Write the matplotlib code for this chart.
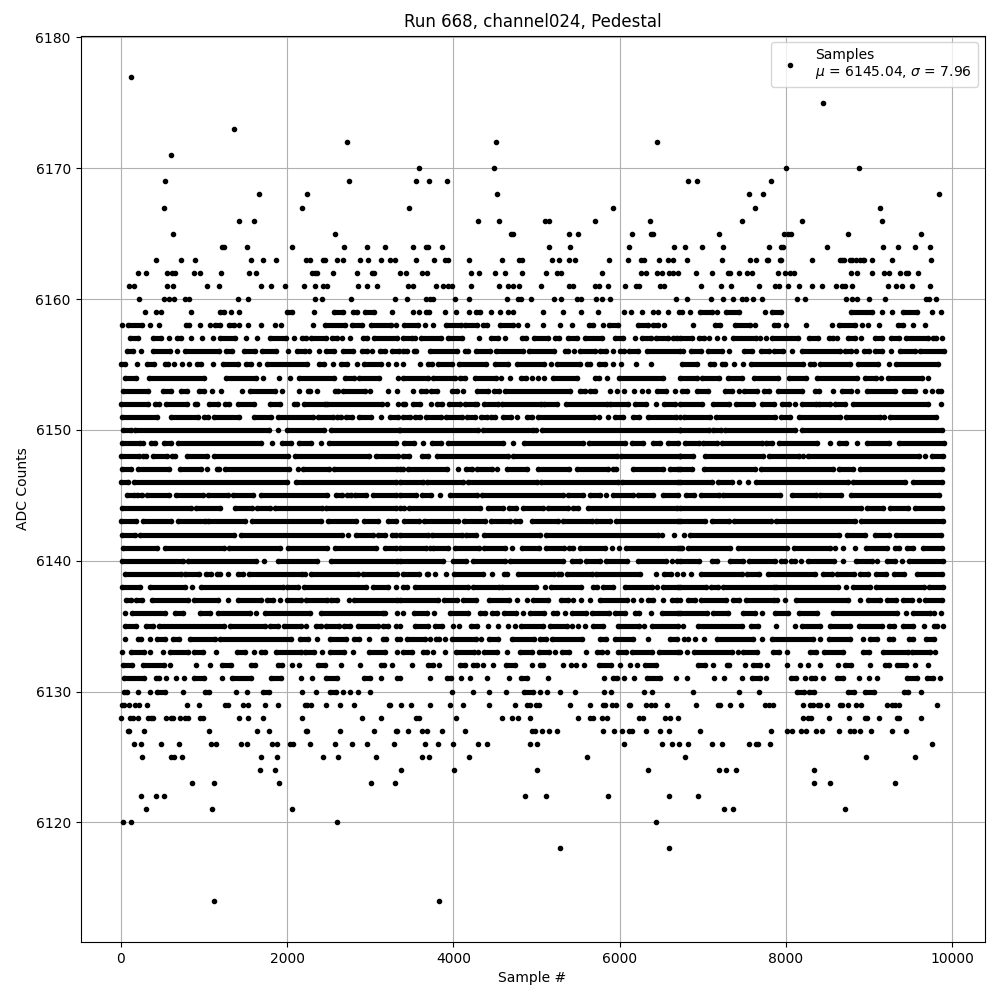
import matplotlib
matplotlib.use("Agg")
import matplotlib.pyplot as plt

# An int is one sample number. A tuple (a, b) is a run of overlapping dots that the
# picture does not let one separate: only its two ends are known, so it is drawn as
# dots at both ends joined by a bar, and no samples are invented in between.
adc_6177 = [120]
adc_6175 = [8448]
adc_6173 = [1356]
adc_6172 = [2724, 4512, 6444]
adc_6171 = [600]
adc_6170 = [3588, 4488, 8004, 8880]
adc_6169 = [528, 2748, 3552, 3708, 3924, 6828, 6936, 7824]
adc_6168 = [1656, 2244, 4524, 7560, 7728, 9840]
adc_6167 = [516, 2184, 3468, 5916, 7632, 9132]
adc_6166 = [1416, 1596, 4296, 4548, 5096, 5148, 5700, 6360, 7476, 8196, 9156]
adc_6165 = [624, 2580, 4692, 4716, 5388, 5496, 6144, 6372, 6396, 7200, 7980, 8028, 8064, 8748, 9624]
adc_6164 = [1212, 1236, 1512, 2052, 2688, 2964, 3180, 3516, 3664, 3688, 3864, 5148, 5400, 6108, 6648,
            6792, 6996, 7248, 7800, 7944, 7968, 8496, 9168, 9348, 9552, 9732]
adc_6163 = [420, 720, 888, 1560, 1704, 1860, 2232, 2280, 2432, 2456, 2604, 2676, 2880, 2976, 3132, 3240,
            3300, 3552, 3768, 3900, 3936, 4188, 4584, 4788, 4824, 5184, 5268, 5388, 5460, 5868, 6096,
            6252, 6288, 6468, 6576, 6636, 6816, 7236, 7572, 7644, 7776, 7788, 7932, 7944, 8316, 8652,
            8676, 8700, 8772, 8796, 8844, 8892, 8928, 8940, 9036, 9276, 9744]
adc_6162 = [204, 300, 552, 612, 648, 876, 948, 1200, 1536, 1620, 2304, 2336, 2364, 2556, 2844, 3024, 3044,
            3360, 3432, 3624, 3684, 4212, 4308, 4500, 4620, 4824, 5112, 5244, 5292, 5784, 6252, 6312,
            6444, 6504, 6588, 6636, 6696, 6924, 7116, 7308, 7332, 7440, 7536, 7596, 7908, 7992, 8052,
            8100, 8784, 8856, 9036, 9180, 9240, 9372, 9444, 9468, 9588]
adc_6161 = [96, 156, 552, 624, 1032, 1176, 1680, 1800, 1968, 2208, 2340, 2436, 2484, 2856, 2964, 3084,
            3448, 3508, 3796, 3880, 3940, 3988, 4216, 4552, 4660, 4720, 4792, 5056, 5392, 5440, 5704,
            5752, 5860, 6064, 6196, 6232, 6484, 6532, 6980, 7220, 7340, 7676, 7868, 7916, 8024, 8156,
            8312, 8432, 8600, 8672, 8708, 8792, 9224, 9320, 9392, 9512, 9728]
adc_6160 = [216, 516, 576, 636, 768, 816, 1404, 1524, 2340, 2424, 2772, 3300, 3436, 3664, 3724, 3760,
            4024, 4192, 4648, 4780, 4816, 4936, 5212, 5296, 5488, 5536, 5716, 5788, 5884, 6680, 6812,
            7100, 7244, 7364, 7472, 7520, 7604, 7712, 8132, 8228, 8720, 8792, 8852, 8996, 9188, 9680,
            9716, 9812]
adc_6159 = [288, 420, 480, 840, (1188, 1236), 1320, 1416, (1992, 2052), 2328, (2568, 2676), (2796, 2844),
            (2940, 3048), 3264, 3508, 3580, (3664, 3712), 3904, 4036, 4192, (4276, 4324), 4456, 4564,
            4660, 4720, 5080, 5320, 5536, 5740, 6052, 6136, 6268, 6404, 6464, 6580, 6712, 6752, 6848,
            (6968, 7112), 7172, (7280, 7436), 7748, (7832, 7940), (8780, 9032), 9152, 9272, (9404, 9572),
            9752, 9872]
adc_6158 = [12, (84, 252), 348, 456, (780, 816), 948, 1068, (1128, 1188), (1296, 1356), 1416, 1524, 1680,
            1848, 1920, 2312, (2460, 2700), (2784, 2904), (3012, 3244), 3312, (3400, 3568), 3652, 3760,
            (3916, 4096), (4144, 4288), (4360, 4408), (4564, 4720), 4780, 4888, 5080, 5284, 5428,
            (5632, 5680), 5800, (5872, 5980), (6220, 6340), (6400, 6460), 6532, 6884, (7148, 7208),
            (7388, 7568), 7628, (7856, 7904), 8004, 8240, 8552, (8636, 8828), 8912, 8984, 9116,
            (9344, 9404), 9524, 9668]
adc_6157 = [(108, 204), (384, 480), 576, (672, 720), 840, 972, 1104, (1188, 1368), 1500, 1632, (1788, 1980),
            2076, (2172, 2232), (2292, 2472), (2544, 2604), 2664, 2760, (2916, 2964), (3048, 3324),
            (3388, 3496), 3532, (3604, 3856), (3940, 4108), 4312, (4456, 4540), 4624, (4828, 4876),
            (4972, 5140), (5224, 5272), (5380, 5488), (5584, 5788), (5944, 6040), 6184, (6268, 6376),
            (6436, 6580), (6640, 6688), (6724, 6872), (6956, 7016), 7076, 7172, 7256, (7364, 7640), 7688,
            7760, (7832, 8144), (8276, 8384), (8516, 8564), 8612, (8744, 8828), 8900, (9068, 9152),
            (9260, 9356), (9440, 9704), (9764, 9812), 9884]
adc_6156 = [(72, 144), 240, (384, 588), 672, (768, 1176), (1260, 1332), (1476, 1608), (1692, 1860), 2004,
            (2112, 2220), 2268, 2388, (2472, 2568), (2676, 2796), (2904, 2964), 3024, (3120, 3180),
            (3264, 3344), (3388, 3436), (3520, 3544), (3724, 4048), (4144, 4180), (4276, 4444),
            (4516, 4840), (4912, 5212), (5344, 5380), 5452, (5524, 5704), (5764, 5836), 5920, (6004, 6052),
            (6112, 6220), (6328, 6720), 6764, (6860, 6980), (7064, 7232), 7316, (7496, 7592), (7700, 7796),
            (7856, 7964), 8072, (8192, 8648), (8708, 8780), 8840, (8936, 8996), (9068, 9152), 9260,
            (9368, 9548), (9608, 9908)]
adc_6155 = [(0, 48), 192, (312, 396), (528, 564), 636, 732, 816, (912, 960), 1112, (1224, 1404), (1500, 1560),
            1656, (1752, 2244), (2388, 2448), 2556, (2652, 2724), 2844, (2928, 3132), 3216, 3312, 3388, 3592,
            (3700, 3748), (3820, 3988), (4072, 4396), (4504, 4660), (4768, 5092), 5176, (5248, 5524),
            (5608, 5644), (5752, 5824), 5920, 6016, 6196, 6376, (6752, 6932), (7088, 7136), (7232, 7268),
            7376, 7484, (7580, 8204), (8288, 8336), (8408, 8768), (8864, 9104), 9236, (9320, 9836)]
adc_6154 = [(48, 180), (336, 1004), (1260, 1620), 1704, 1896, 2028, (2136, 2568), (2700, 2808), (2868, 3108),
            3336, (3388, 3688), (3760, 4024), (4084, 4144), (4264, 4516), 4576, 4684, (4816, 4876), 4948,
            5020, 5092, (5200, 5488), (5704, 5752), 5848, (5992, 6520), (6724, 6932), (6992, 7196),
            (7304, 7472), (7616, 7904), (8036, 8240), (8372, 8852), (8948, 9080), 9140, (9224, 9632), 9704]
adc_6153 = [(24, 324), (504, 600), (720, 792), (936, 996), 1092, 1200, 1452, (1548, 1848), 1932, 2136,
            (2256, 2280), 2364, (2580, 2616), (2676, 2940), 3000, 3216, 3324, 3516, (3604, 3664), (3736, 3808),
            (3988, 4048), 4120, (4288, 4420), (4492, 4552), (4624, 5404), (5524, 5584), (5644, 5704), 5884,
            5968, 6052, 6172, 6268, 6340, (6448, 6556), 6664, (6752, 6812), (6932, 7064), (7272, 7352), 7436,
            (7496, 7652), (7736, 7796), (7904, 8192), (8348, 8396), 8564, (8672, 8780), 8852, (8972, 9308),
            (9416, 9548), 9668, 9752, (9836, 9872)]
adc_6152 = [(0, 324), (408, 456), (540, 792), (888, 912), (1056, 1164), (1248, 1296), (1404, 1596), (1788, 1908),
            (2076, 2112), (2208, 2460), (2484, 3144), 3204, 3336, (3388, 3412), (3508, 3592), 3736, (3808, 3868),
            (3952, 4084), (4144, 4264), 4288, (4372, 4540), (4588, 5056), (5092, 5248), (5356, 5848), (5884, 6100),
            (6184, 6316), 6436, (6532, 6660), (6724, 6992), (7124, 7316), (7400, 7604), (7712, 7856), (7952, 8036),
            8108, (8192, 8360), (8396, 8528), (8588, 8708), (8804, 9704), 9872]
adc_6151 = [(12, 432), (600, 924), (996, 1044), (1116, 1416), (1596, 1800), (1884, 2316), (2376, 2556), (2604, 2652),
            (2712, 2784), (2868, 3012), 3132, (3240, 3336), (3388, 3472), (3532, 3592), (3664, 3856), (3916, 4108),
            (4168, 4264), (4336, 4408), (4456, 4504), (4600, 4696), 4768, (4888, 4948), (5020, 5692), 5752, 5860,
            (5944, 6040), (6160, 6232), (6340, 6680), 6724, (6776, 7088), (7160, 7868), (7940, 8048), (8156, 8648),
            (8720, 9128), 9176, (9248, 9812)]
adc_6150 = [(24, 120), (168, 1776), 1884, (1992, 2448), (2532, 3344), (3360, 4300), (4360, 4960), 4988, (5068, 6720),
            (6724, 7076), (7124, 7220), (7268, 8108), (8192, 9884)]
adc_6149 = [(12, 228), 264, (360, 408), (516, 600), (684, 1684), 1812, (1932, 2040), (2136, 2292), 2412, (2508, 3304),
            (3400, 3520), 3628, (3748, 3856), (3940, 4600), 4720, (4852, 5560), (5632, 6064), (6148, 6280),
            (6400, 6484), (6580, 6700), (6788, 6956), (7004, 7172), (7232, 7712), (7760, 7832), (7916, 8372), 8528,
            (8636, 8720), 8852, (8972, 9236), (9356, 9908)]
adc_6148 = [(0, 216), (264, 300), (384, 552), (612, 648), (792, 1032), (1116, 2004), (2088, 2984), (3072, 3336),
            (3388, 3460), (3616, 3700), (3808, 4660), (4720, 5968), (6016, 6720), (6724, 6884), (7028, 7724),
            (7796, 8156), 8204, (8264, 9596), 9668, (9752, 9896)]
adc_6147 = [(12, 120), (204, 576), (708, 960), 1032, (1152, 1176), (1248, 2016), 2124, (2196, 2508), (2568, 3324),
            (3360, 3388), (3448, 3928), 4060, (4156, 4228), (4288, 4468), 4528, (4648, 4888), (5012, 5392),
            (5488, 5860), (5920, 5960), (6160, 6520), (6604, 6700), (6724, 6872), (7016, 7628), (7700, 8564),
            (8636, 8804), (8888, 9884)]
adc_6146 = [(0, 84), (156, 1992), (2100, 3312), (3360, 3632), (3680, 4120), (4180, 5000), (5048, 5980), (6032, 6700),
            (6724, 7112), (7184, 7352), 7436, 7544, (7640, 8744), (8804, 9428), (9524, 9884)]
adc_6145 = [(72, 156), (192, 252), (312, 576), (660, 984), (1044, 1284), (1344, 1584), (1680, 2484), (2592, 2664),
            (2724, 2772), (2820, 2952), (3036, 3312), (3360, 3544), (3616, 3736), 3844, (3964, 4288), (4348, 5320),
            (5380, 5560), (5644, 5760), 5836, (5920, 6160), (6220, 6400), (6520, 6700), (6800, 6896), (6980, 7196),
            (7244, 7924), (8072, 8360), (8408, 8660), (8780, 9848)]
adc_6144 = [(12, 840), (900, 1188), (1368, 1572), (1632, 1788), (1848, 2424), (2472, 3312), (3360, 3400), (3460, 4320),
            (4420, 4600), (4672, 4756), (4840, 5080), (5140, 5380), (5440, 5500), (5620, 6688), (6724, 8904),
            (8972, 9164), (9248, 9464), (9548, 9884)]
adc_6143 = [(0, 180), (264, 600), (684, 1012), (1044, 1488), (1572, 2412), (2496, 2832), (2928, 3096), (3216, 3304),
            (3400, 3580), (3640, 4060), (4132, 4384), (4456, 4684), (4744, 4804), (4948, 5260), (5320, 5668),
            (5716, 5884), (5956, 6700), (6724, 7028), (7112, 7316), (7376, 7820), (7880, 8828), (8900, 9896)]
adc_6142 = [(12, 168), (228, 1356), (1440, 2664), 2736, (2832, 3036), (3096, 3180), (3264, 3312), (3360, 3700),
            (3748, 4108), (4156, 4276), (4372, 5044), (5116, 6460), 6508, 6652, 6776, (6848, 8636), (8732, 8948),
            (9068, 9236), (9320, 9872)]
adc_6141 = [(24, 432), (528, 1236), (1296, 1908), (2004, 2484), (2572, 3072), (3180, 3312), (3360, 3664), 3724,
            (3760, 3940), (4024, 4312), (4372, 4624), 4708, (4828, 5032), (5116, 5332), (5392, 5440), (5524, 5824),
            5908, 5992, (6076, 6700), (6724, 6752), (6824, 7324), (7424, 8012), (8096, 8528), 8588, 8684, 8828,
            (8960, 9212), (9308, 9356), (9452, 9524), (9644, 9884)]
adc_6140 = [(12, 744), (804, 1620), 1716, (1884, 2364), (2532, 3324), (3360, 3880), (4000, 4156), (4240, 4624),
            (4684, 5320), (5428, 5524), (5596, 5764), (5836, 6088), (6220, 6556), 6628, 6688, (6724, 6956),
            (7112, 7172), (7328, 7484), (7556, 7868), (7940, 7988), (8060, 8108), 8180, (8264, 8576), 8684,
            (8840, 9032), 9092, (9212, 9308), 9392, (9476, 9896)]
adc_6139 = [(48, 720), (768, 936), (1020, 1080), (1152, 1188), 1284, (1404, 1464), (1536, 2184), 2220, (2292, 2856),
            (2916, 3324), (3388, 3580), (3676, 3700), 3784, 3916, (4012, 4360), 4468, (4612, 4648), (4780, 5212),
            (5260, 5296), (5368, 5668), (5716, 6244), 6440, (6536, 6616), 6688, 6764, 6860, (6980, 7472), (7532, 7676),
            (7784, 8348), (8444, 8552), (8612, 8816), (8888, 8984), (9080, 9200), (9296, 9416), (9572, 9884)]
adc_6138 = [(12, 228), (348, 768), 852, (960, 1944), (1992, 2124), (2208, 2952), (3036, 3216), 3312, (3388, 3436),
            (3532, 4180), (4240, 4552), (4588, 4996), 5104, (5176, 5536), (5680, 5728), (5800, 5920), (6064, 6388),
            6448, (6520, 6700), (6724, 7040), (7100, 7184), (7244, 7856), (7880, 8624), 8720, (8804, 9008),
            (9080, 9656), (9716, 9896)]
adc_6137 = [(60, 120), (180, 252), (372, 804), (876, 1164), 1284, (1404, 1680), (1752, 1824), 1908, (1992, 2160),
            (2232, 2484), (2532, 2604), 2748, (2808, 3324), (3360, 3820), (3892, 4048), (4120, 4276), (4432, 4672),
            4768, 4888, (4960, 5140), (5296, 5380), 5440, 5536, 5644, (5764, 6088), 6160, 6256, (6340, 6400), 6524,
            (6628, 6688), 6724, (6824, 6908), (6980, 7280), (7364, 7436), (7520, 7856), 7892, 7988, (8120, 8744), 8888,
            (8984, 9128), (9212, 9320), (9404, 9512), 9596, (9668, 9884)]
adc_6136 = [48, (132, 528), (648, 744), (948, 1068), (1164, 1548), 1620, (1728, 2280), (2412, 3156), 3180, 3324, 3388,
            (3520, 3676), 3772, (3964, 4180), (4324, 4384), (4468, 4528), (4612, 4756), 4840, (4924, 5092), (5200, 5248),
            5344, (5428, 5596), (5668, 5872), (5944, 6064), (6184, 6232), 6376, (6512, 6700), (6724, 7052), (7124, 7304),
            (7484, 7628), 7712, (7868, 8024), (8156, 8372), (8564, 9332), 9440, (9524, 9728), 9776, 9872]
adc_6135 = [(48, 180), (300, 384), (456, 1236), (1308, 1728), (1788, 1884), (1956, 2160), 2232, (2352, 2412), (2472, 2628),
            (2688, 2760), (2856, 3096), (3156, 3216), 3312, 3360, (3532, 3700), (3784, 3868), 4000, 4072, (4216, 4288),
            4420, 4540, 4660, 4744, (4816, 5080), (5164, 5368), 5428, 5500, 5584, (5680, 5800), (5980, 6232), 6292,
            (6388, 6700), 6764, (6944, 7472), (7580, 7664), 7884, 8108, (8192, 8408), (8528, 8768), (8876, 9152),
            (9236, 9296), (9404, 9524), 9656, (9788, 9824), 9896]
adc_6134 = [48, (204, 240), 348, (432, 528), (624, 696), (828, 1128), (1188, 2040), (2148, 2256), 2364, (2520, 2712),
            (2808, 2868), 2988, (3156, 3192), 3324, 3360, (3436, 3652), 3724, (3796, 3832), 3904, (3988, 4276), 4336,
            (4432, 4540), (4708, 4972), (5044, 5116), (5188, 5548), (5764, 5836), (5944, 6160), 6340, (6604, 6688), 6776,
            6824, 6908, 7016, (7172, 7604), 7712, (7832, 8324), 8408, (8516, 8768), 8924, (9008, 9092), (9236, 9284),
            (9476, 9524), (9680, 9776)]
adc_6133 = [12, (120, 276), 348, 504, (588, 804), (876, 984), 1140, (1392, 1488), 1596, (1680, 1728), (1860, 2160),
            (2220, 2328), 2424, (2520, 2688), 2796, (2988, 3180), 3324, (3388, 3496), (3628, 3676), 3760, 3904,
            (4036, 4252), 4300, (4372, 4528), 4648, (4804, 4948), (5032, 5152), 5224, (5308, 5392), 5596, (5728, 5788),
            5848, (5980, 6076), (6148, 6388), (6472, 6700), 6724, 6812, (6896, 7352), 7424, (7484, 7652), (7844, 7916),
            8012, (8288, 8360), (8456, 8684), (8924, 8996), (9164, 9464), (9512, 9728), 9800]
adc_6132 = [(24, 132), (264, 516), 588, 900, 1068, (1212, 1320), (1560, 1608), (1884, 1932), 2052, 2136, (2376, 2460), 2652,
            2880, (3132, 3168), 3264, 3496, (3700, 3760), 3832, (4084, 4144), (4240, 4288), 4360, 4480, (4636, 4744), 4948,
            (5044, 5080), 5320, 5416, 5476, 5572, (5752, 5896), 6004, 6124, 6208, (6304, 6436), (6944, 7028), 7124,
            (7292, 7316), 7508, (7604, 7688), 7772, 8012, 8168, 8264, 8408, 8624, (8708, 8780), 9008, (9188, 9236),
            (9332, 9440), 9548, 9704]
adc_6131 = [(36, 276), (420, 456), 540, 660, 756, (876, 996), 1212, (1332, 1560), (1800, 1920), 2160, 2304, (2472, 2604),
            (2928, 3000), 3132, 3324, 3360, 3724, (3928, 3976), 4096, 4204, 4408, 4672, (4816, 4888), 5140, 5812,
            (5920, 5968), 6052, 6172, (6328, 6484), 6676, 6812, 7136, 7256, 7472, (7592, 7688), 7760, (8060, 8120), 8228,
            (8300, 8348), 8444, (8612, 8684), 8876, 8996, 9092, (9452, 9572), (9692, 9764), 9860]
adc_6130 = [(36, 72), 204, 348, (432, 528), 744, (1008, 1056), 1380, 1512, (1704, 1776), 2172, 2352, (2520, 2592), 2676, 2760,
            2856, 3000, 3988, 4240, 4432, 4636, (4852, 4960), 5044, 5128, 5284, 5464, 5812, 5896, 6292, 6388, 6884, 7436,
            7676, (8132, 8216), (8276, 8336), (8744, 8816), (8948, 9056), (9416, 9464), 9620]
adc_6129 = [16, 36, 96, 164, 216, 312, 792, 936, 1248, 1284, 1464, 1524, 1728, 1884, 2220, 2244, 2292, 2472, 2640, 2808, 3228,
            3240, 3372, 3492, 3720, 3960, 4116, 4428, 4740, 4884, 4920, 4996, 5028, 5400, 5640, 5796, 5820, 5904, 5952, 6108,
            6120, 6312, 6372, 6420, 6564, 6924, 7188, 7212, 7332, 7464, 7752, 7800, 7848, 8208, 8292, 8328, 8388, 8412, 8496,
            8652, 8676, 8748, 8844, 8904, 9216, 9276, 9312, 9360, 9816]
adc_6128 = [0, 108, 144, 204, 324, 360, 384, 540, 600, 624, 708, 768, 804, 948, 984, 1416, 1524, 1704, 2172, 2904, 3132, 3552,
            3588, 4032, 4584, 4704, 4776, 4920, 5496, 5640, 5676, 5784, 5844, 6228, 6276, 6540, 6600, 6696, 8208, 8268, 8304,
            8520, 8760, 8952, 8976, 9120, 9336, 9360, 9624]
adc_6127 = [84, 96, 276, 1056, 1632, 1776, 2232, 2244, 2640, 3048, 3312, 3324, 3456, 3624, 3684, 3864, 4140, 4944, 4984, 5064,
            5148, 5244, 5796, 5928, 6024, 6108, 6144, 6312, 6480, 6588, 6972, 7824, 8016, 8076, 8184, 8244, 8364, 8436, 8640,
            8772, 8820, 8892, 9024, 9276, 9444]
adc_6126 = [156, 240, 480, 696, 1080, 1140, 1440, 1512, 1812, 1872, 2028, 2064, 2280, 2580, 2784, 2964, 3288, 3660, 3816, 3996,
            4296, 4404, 4920, 5004, 6048, 6504, 6624, 6708, 6828, 7116, 7236, 7560, 7644, 7668, 7812, 9756]
adc_6125 = [252, 600, 636, 732, 1680, 1872, 2436, 2616, 3072, 3624, 3708, 4188, 5604, 6792, 8964, 9552]
adc_6124 = [1668, 1848, 3372, 4008, 5004, 6336, 7200, 7284, 7404, 8340]
adc_6123 = [852, 1116, 1896, 3012, 3300, 8340, 8532, 9312]
adc_6122 = [240, 420, 516, 4860, 5112, 5856, 6588, 6948]
adc_6121 = [300, 1092, 2052, 7260, 7368, 8712]
adc_6120 = [24, 120, 2604, 6432]
adc_6118 = [5280, 6588]
adc_6114 = [1116, 3828]

title = "Run 668, channel024, Pedestal"
xlabel = "Sample #"
ylabel = "ADC Counts"
legend_label = "Samples\n$\\mu$ = 6145.04, $\\sigma$ = 7.96"

rows = {name[4:]: val for name, val in list(globals().items()) if name.startswith("adc_")}

xs, ys, bar_y, bar_a, bar_b = [], [], [], [], []
for level, entries in rows.items():
    level = int(level)
    for e in entries:
        if isinstance(e, tuple):
            xs += list(e)
            ys += [level, level]
            bar_y.append(level)
            bar_a.append(e[0])
            bar_b.append(e[1])
        else:
            xs.append(e)
            ys.append(level)

fig, ax = plt.subplots(figsize=(10, 10), dpi=100)
fig.subplots_adjust(left=0.0805, right=0.9847, top=0.9645, bottom=0.058)
ax.hlines(bar_y, bar_a, bar_b, colors="k", linewidth=3.7, capstyle="round", zorder=2)
ax.plot(xs, ys, "k.", label=legend_label, zorder=2)
ax.set_xlim(-487, 10392)
ax.set_ylim(6110.85, 6180.15)
ax.set_xticks(range(0, 10001, 2000))
ax.grid(True)
ax.set_title(title)
ax.set_xlabel(xlabel)
ax.set_ylabel(ylabel)
ax.legend(loc="upper right")
fig.savefig("out.png", dpi=100)
